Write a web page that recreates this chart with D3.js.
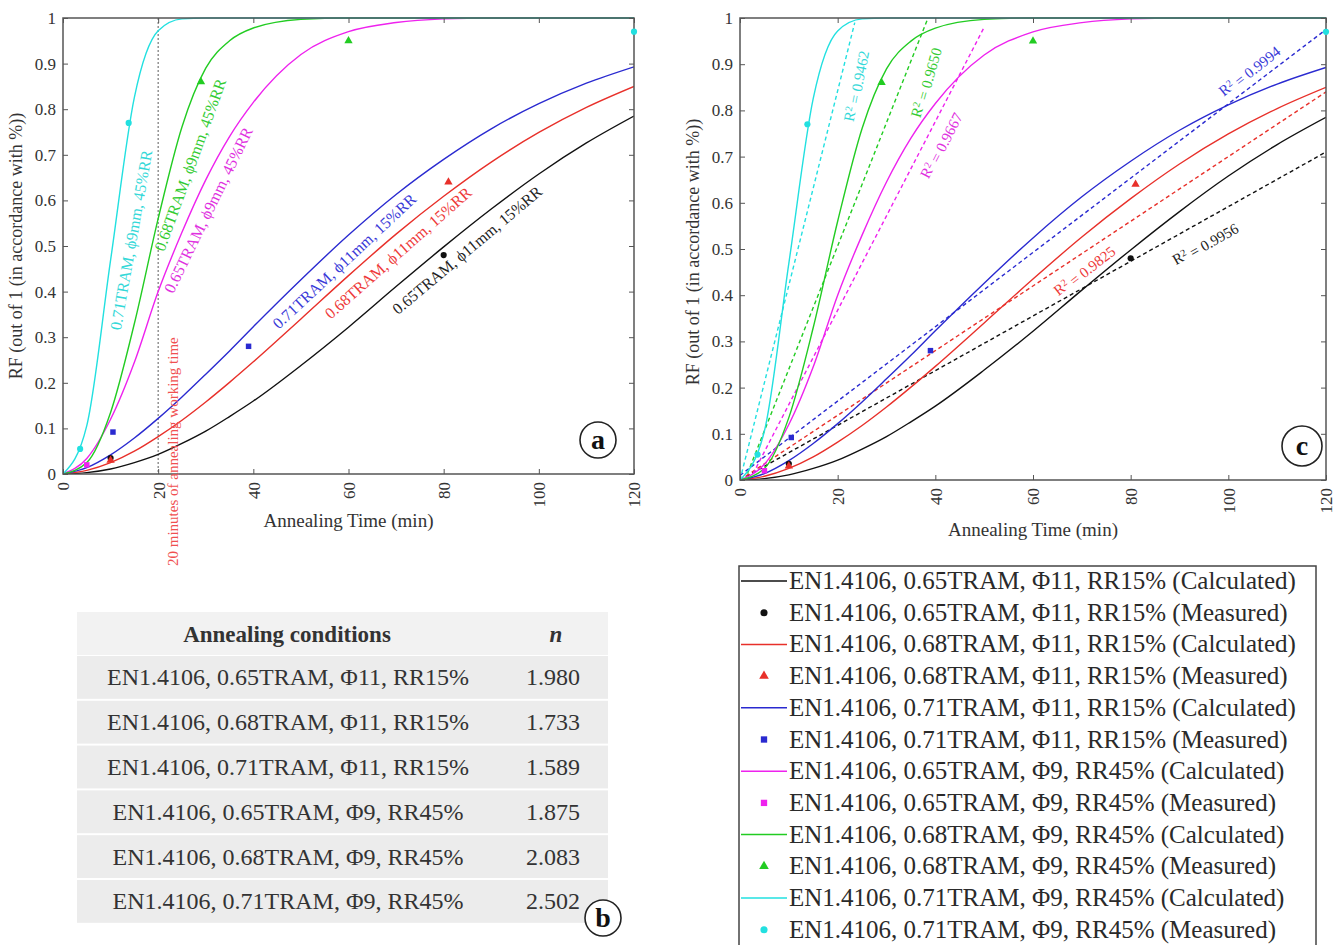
<!DOCTYPE html>
<head>
  <meta charset="utf-8">
  <title>RF annealing</title>
  <script src="https://d3js.org/d3.v7.min.js"></script>
  <style type="text/css">
    body {margin: 0; background: #fff;}
    text {font-family: "Liberation Serif", "Times New Roman", serif;}
  </style>
</head>
<body>
  <div id="viz"></div>
</body>
<script type="text/javascript">

  // annealing time (min) for the calculated curves
  const tCalc = [0, 5, 10, 15, 20, 25, 30, 35, 40, 50, 60, 70, 80, 90, 100, 110, 120];

  // calculated RF
  const calc065d11 = [0, 0.003, 0.011, 0.025, 0.043, 0.067, 0.094, 0.126, 0.160, 0.238, 0.322, 0.411, 0.498, 0.581, 0.658, 0.726, 0.785];
  const calc068d11 = [0, 0.008, 0.025, 0.050, 0.082, 0.118, 0.158, 0.201, 0.246, 0.340, 0.435, 0.526, 0.609, 0.684, 0.749, 0.804, 0.850];
  const calc071d11 = [0, 0.014, 0.042, 0.079, 0.122, 0.169, 0.219, 0.270, 0.323, 0.426, 0.524, 0.613, 0.690, 0.757, 0.812, 0.857, 0.893];
  const calc065d9 = [0, 0.034, 0.120, 0.245, 0.400, 0.530, 0.645, 0.740, 0.815, 0.920, 0.970, 0.990, 0.998, 1, 1, 1, 1];
  const calc068d9 = [0, 0.025, 0.135, 0.330, 0.560, 0.761, 0.890, 0.950, 0.978, 0.997, 1, 1, 1, 1, 1, 1, 1];
  const calc071d9 = [0, 0.106, 0.469, 0.826, 0.972, 0.998, 1, 1, 1, 1, 1, 1, 1, 1, 1, 1, 1];

  // measured points
  const measT065d11 = [10, 80];
  const measV065d11 = [0.035, 0.48];
  const measT068d11 = [10, 81];
  const measV068d11 = [0.03, 0.64];
  const measT071d11 = [10.5, 39];
  const measV071d11 = [0.092, 0.28];
  const measT065d9 = [5];
  const measV065d9 = [0.02];
  const measT068d9 = [29, 60];
  const measV068d9 = [0.86, 0.95];
  const measT071d9 = [3.6, 13.8, 120];
  const measV071d9 = [0.055, 0.77, 0.97];

  // linear fits in panel c (start / end)
  const fitT065d11 = [0, 120];
  const fitV065d11 = [0, 0.71];
  const fitT068d11 = [0, 120];
  const fitV068d11 = [0, 0.84];
  const fitT071d11 = [0, 120];
  const fitV071d11 = [0.01, 0.975];
  const fitT065d9 = [2, 50];
  const fitV065d9 = [0, 0.98];
  const fitT068d9 = [1, 38.5];
  const fitV068d9 = [0, 1];
  const fitT071d9 = [0, 23.5];
  const fitV071d9 = [0, 0.99];
  const fitR2 = ["0.9956", "0.9825", "0.9994", "0.9667", "0.9650", "0.9462"];

  const curveLabels = [
    "0.65TRAM, \u03D511mm, 15%RR",
    "0.68TRAM, \u03D511mm, 15%RR",
    "0.71TRAM, \u03D511mm, 15%RR",
    "0.65TRAM, \u03D59mm, 45%RR",
    "0.68TRAM, \u03D59mm, 45%RR",
    "0.71TRAM, \u03D59mm, 45%RR"
  ];

  const conditions = [
    "EN1.4106, 0.65TRAM, \u03A611, RR15%",
    "EN1.4106, 0.68TRAM, \u03A611, RR15%",
    "EN1.4106, 0.71TRAM, \u03A611, RR15%",
    "EN1.4106, 0.65TRAM, \u03A69, RR45%",
    "EN1.4106, 0.68TRAM, \u03A69, RR45%",
    "EN1.4106, 0.71TRAM, \u03A69, RR45%"
  ];
  const nValues = ["1.980", "1.733", "1.589", "1.875", "2.083", "2.502"];

  const xTicks = [0, 20, 40, 60, 80, 100, 120];
  const yTicks = [0, 0.1, 0.2, 0.3, 0.4, 0.5, 0.6, 0.7, 0.8, 0.9, 1];

  const colors = ["#111111", "#e8302a", "#2a2ad0", "#ee22ee", "#22cc22", "#22e0e0"];
  const labelColors = ["#222222", "#ee3a3a", "#3a3ad8", "#e030e0", "#33cc33", "#33d8d8"];
  const markers = [d3.symbolCircle, d3.symbolTriangle, d3.symbolSquare, d3.symbolSquare, d3.symbolTriangle, d3.symbolCircle];

  const calcList = [calc065d11, calc068d11, calc071d11, calc065d9, calc068d9, calc071d9];
  const measList = [
    [measT065d11, measV065d11], [measT068d11, measV068d11], [measT071d11, measV071d11],
    [measT065d9, measV065d9], [measT068d9, measV068d9], [measT071d9, measV071d9]
  ];
  const fitList = [
    [fitT065d11, fitV065d11], [fitT068d11, fitV068d11], [fitT071d11, fitV071d11],
    [fitT065d9, fitV065d9], [fitT068d9, fitV068d9], [fitT071d9, fitV071d9]
  ];

  const AXISCOLOR = "#555";
  const TEXTCOLOR = "#333";

  const svg = d3.select("#viz").append("svg")
    .attr("width", 1338)
    .attr("height", 945);

  svg.append("rect").attr("width", "100%").attr("height", "100%").attr("fill", "#fff");

  function drawPanel(p) {
    const x = d3.scaleLinear().domain([0, 120]).range([p.left, p.right]);
    const y = d3.scaleLinear().domain([0, 1]).range([p.bottom, p.top]);
    const g = svg.append("g");

    const clipId = "clip" + p.name;
    svg.append("clipPath").attr("id", clipId)
      .append("rect")
      .attr("x", p.left).attr("y", p.top - 2)
      .attr("width", p.right - p.left).attr("height", p.bottom - p.top + 2);

    const plot = g.append("g").attr("clip-path", "url(#" + clipId + ")");

    // axes (ticks inside, matlab style)
    const bottomAxis = g.append("g")
      .attr("transform", "translate(0," + p.bottom + ")")
      .call(d3.axisBottom(x).tickValues(xTicks).tickSize(-5).tickFormat(d3.format("d")));
    bottomAxis.selectAll("text")
      .attr("transform", "rotate(-90)")
      .attr("text-anchor", "end")
      .attr("x", -8).attr("y", 0).attr("dy", "0.35em");

    g.append("g")
      .attr("transform", "translate(" + p.left + ",0)")
      .call(d3.axisLeft(y).tickValues(yTicks).tickSize(-5).tickPadding(7).tickFormat(d => String(d)));

    g.append("g")
      .attr("transform", "translate(0," + p.top + ")")
      .call(d3.axisTop(x).tickValues(xTicks).tickSize(-5).tickFormat(""));
    g.append("g")
      .attr("transform", "translate(" + p.right + ",0)")
      .call(d3.axisRight(y).tickValues(yTicks).tickSize(-5).tickFormat(""));

    g.selectAll(".domain").attr("stroke", "none");
    g.selectAll(".tick line").attr("stroke", AXISCOLOR);
    g.selectAll(".tick text")
      .style("font-family", "'Liberation Serif', serif")
      .style("font-size", "17px")
      .attr("fill", TEXTCOLOR);

    g.append("rect")
      .attr("x", p.left).attr("y", p.top)
      .attr("width", p.right - p.left).attr("height", p.bottom - p.top)
      .attr("fill", "none").attr("stroke", AXISCOLOR).attr("stroke-width", 1.5);

    g.append("text")
      .text("Annealing Time (min)")
      .attr("x", (p.left + p.right) / 2).attr("y", p.bottom + p.xtitleDy)
      .attr("text-anchor", "middle")
      .style("font-size", "19px")
      .attr("fill", TEXTCOLOR);

    g.append("text")
      .text("RF (out of 1 (in accordance with %))")
      .attr("transform", "translate(" + p.ytitleX + "," + p.ytitleY + ") rotate(-90)")
      .attr("text-anchor", "middle")
      .style("font-size", "18px")
      .attr("fill", TEXTCOLOR);

    const line = d3.line()
      .x(d => x(d[0]))
      .y(d => y(d[1]))
      .curve(d3.curveMonotoneX);

    return { x, y, g, plot, line };
  }

  function drawCurves(P) {
    calcList.forEach(function (vals, i) {
      P.plot.append("path")
        .datum(tCalc.map((t, j) => [t, vals[j]]))
        .attr("d", P.line)
        .attr("fill", "none")
        .attr("stroke", colors[i])
        .attr("stroke-width", 1.4);
    });
    measList.forEach(function (m, i) {
      m[0].forEach(function (t, j) {
        P.g.append("path")
          .attr("d", d3.symbol().type(markers[i]).size(30)())
          .attr("transform", "translate(" + P.x(t) + "," + P.y(m[1][j]) + ")")
          .attr("fill", colors[i]);
      });
    });
  }

  function rotLabel(P, text, t, v, angle, color, size) {
    P.g.append("text")
      .text(text)
      .attr("transform", "translate(" + P.x(t) + "," + P.y(v) + ") rotate(" + angle + ")")
      .attr("text-anchor", "middle")
      .attr("dy", "0.35em")
      .style("font-size", size + "px")
      .attr("fill", color);
  }

  function circleLetter(cx, cy, r, letter) {
    svg.append("circle")
      .attr("cx", cx).attr("cy", cy).attr("r", r)
      .attr("fill", "#fff").attr("stroke", "#222").attr("stroke-width", 1.6);
    svg.append("text")
      .text(letter)
      .attr("x", cx).attr("y", cy + 9)
      .attr("text-anchor", "middle")
      .style("font-size", "28px")
      .style("font-weight", "bold")
      .attr("fill", "#111");
  }

  ////// panel a
  const A = drawPanel({ name: "a", left: 63, right: 634, top: 18, bottom: 474, xtitleDy: 53, ytitleX: 22, ytitleY: 246 });

  A.plot.append("line")
    .attr("x1", A.x(20)).attr("x2", A.x(20))
    .attr("y1", A.y(1)).attr("y2", A.y(0))
    .attr("stroke", "#777").attr("stroke-width", 1.2)
    .attr("stroke-dasharray", "2,2");

  drawCurves(A);

  const labelPosA = [[84.9, 0.491, -40], [70.4, 0.485, -41.5], [59.1, 0.467, -43], [30.5, 0.579, -64], [26.7, 0.678, -70], [14.3, 0.513, -80]];
  labelPosA.forEach(function (pos, i) {
    rotLabel(A, curveLabels[i], pos[0], pos[1], pos[2], labelColors[i], 16);
  });

  svg.append("text")
    .text("20 minutes of annealing working time")
    .attr("transform", "translate(178,566) rotate(-90)")
    .attr("text-anchor", "start")
    .style("font-size", "15px")
    .attr("fill", "#f05050");

  circleLetter(598, 440, 18, "a");

  ////// panel c
  const C = drawPanel({ name: "c", left: 740, right: 1326, top: 18, bottom: 480, xtitleDy: 56, ytitleX: 699, ytitleY: 252 });

  fitList.forEach(function (f, i) {
    C.plot.append("line")
      .attr("x1", C.x(f[0][0])).attr("x2", C.x(f[0][1]))
      .attr("y1", C.y(f[1][0])).attr("y2", C.y(f[1][1]))
      .attr("stroke", colors[i]).attr("stroke-width", 1.4)
      .attr("stroke-dasharray", "4,3");
  });

  drawCurves(C);

  const labelPosC = [[95.2, 0.513, -29.5], [70.4, 0.455, -38], [104.2, 0.887, -38.5], [41, 0.725, -63], [37.9, 0.861, -74], [23.6, 0.853, -79]];
  labelPosC.forEach(function (pos, i) {
    C.g.append("text")
      .attr("transform", "translate(" + C.x(pos[0]) + "," + C.y(pos[1]) + ") rotate(" + pos[2] + ")")
      .attr("text-anchor", "middle")
      .attr("dy", "0.35em")
      .style("font-size", "15px")
      .attr("fill", labelColors[i])
      .call(function (t) {
        t.append("tspan").text("R");
        t.append("tspan").text("2").attr("dy", "-0.4em").style("font-size", "10px");
        t.append("tspan").text(" = " + fitR2[i]).attr("dy", "0.4em");
      });
  });

  circleLetter(1302, 446, 20, "c");

  ////// table b
  const TABLEX = 77, TABLEW = 531, HEADERY = 612, HEADERH = 43, ROWH = 44.8;
  const tbl = svg.append("g");
  tbl.append("rect")
    .attr("x", TABLEX).attr("y", HEADERY).attr("width", TABLEW).attr("height", HEADERH)
    .attr("fill", "#f2f2f2");
  tbl.append("text").text("Annealing conditions")
    .attr("x", 287).attr("y", HEADERY + HEADERH / 2 + 8)
    .attr("text-anchor", "middle")
    .style("font-size", "23px").style("font-weight", "bold")
    .attr("fill", TEXTCOLOR);
  tbl.append("text").text("n")
    .attr("x", 556).attr("y", HEADERY + HEADERH / 2 + 8)
    .attr("text-anchor", "middle")
    .style("font-size", "23px").style("font-weight", "bold").style("font-style", "italic")
    .attr("fill", TEXTCOLOR);

  conditions.forEach(function (c, i) {
    const ry = HEADERY + HEADERH + i * ROWH;
    tbl.append("rect")
      .attr("x", TABLEX).attr("y", ry + 1).attr("width", TABLEW).attr("height", ROWH - 2)
      .attr("fill", "#ececec");
    tbl.append("text").text(c)
      .attr("x", 288).attr("y", ry + ROWH / 2 + 8)
      .attr("text-anchor", "middle")
      .style("font-size", "24px")
      .attr("fill", TEXTCOLOR);
    tbl.append("text").text(nValues[i])
      .attr("x", 553).attr("y", ry + ROWH / 2 + 8)
      .attr("text-anchor", "middle")
      .style("font-size", "24px")
      .attr("fill", TEXTCOLOR);
  });

  circleLetter(603, 918, 18, "b");

  ////// legend
  const LEGX = 739, LEGY = 566, LEGROW = 31.7;
  const leg = svg.append("g");
  leg.append("rect")
    .attr("x", LEGX).attr("y", LEGY).attr("width", 577).attr("height", 390)
    .attr("fill", "#fff").attr("stroke", "#444").attr("stroke-width", 1.5);

  conditions.forEach(function (c, i) {
    const y1 = LEGY + 15 + (2 * i) * LEGROW;
    const y2 = y1 + LEGROW;
    leg.append("line")
      .attr("x1", LEGX + 2).attr("x2", LEGX + 48)
      .attr("y1", y1).attr("y2", y1)
      .attr("stroke", colors[i]).attr("stroke-width", 1.5);
    leg.append("text").text(c + " (Calculated)")
      .attr("x", LEGX + 50).attr("y", y1 + 8)
      .style("font-size", "25px").attr("fill", "#2a2a2a");
    leg.append("path")
      .attr("d", d3.symbol().type(markers[i]).size(40)())
      .attr("transform", "translate(" + (LEGX + 25) + "," + y2 + ")")
      .attr("fill", colors[i]);
    leg.append("text").text(c + " (Measured)")
      .attr("x", LEGX + 50).attr("y", y2 + 8)
      .style("font-size", "25px").attr("fill", "#2a2a2a");
  });

</script>
</html>
